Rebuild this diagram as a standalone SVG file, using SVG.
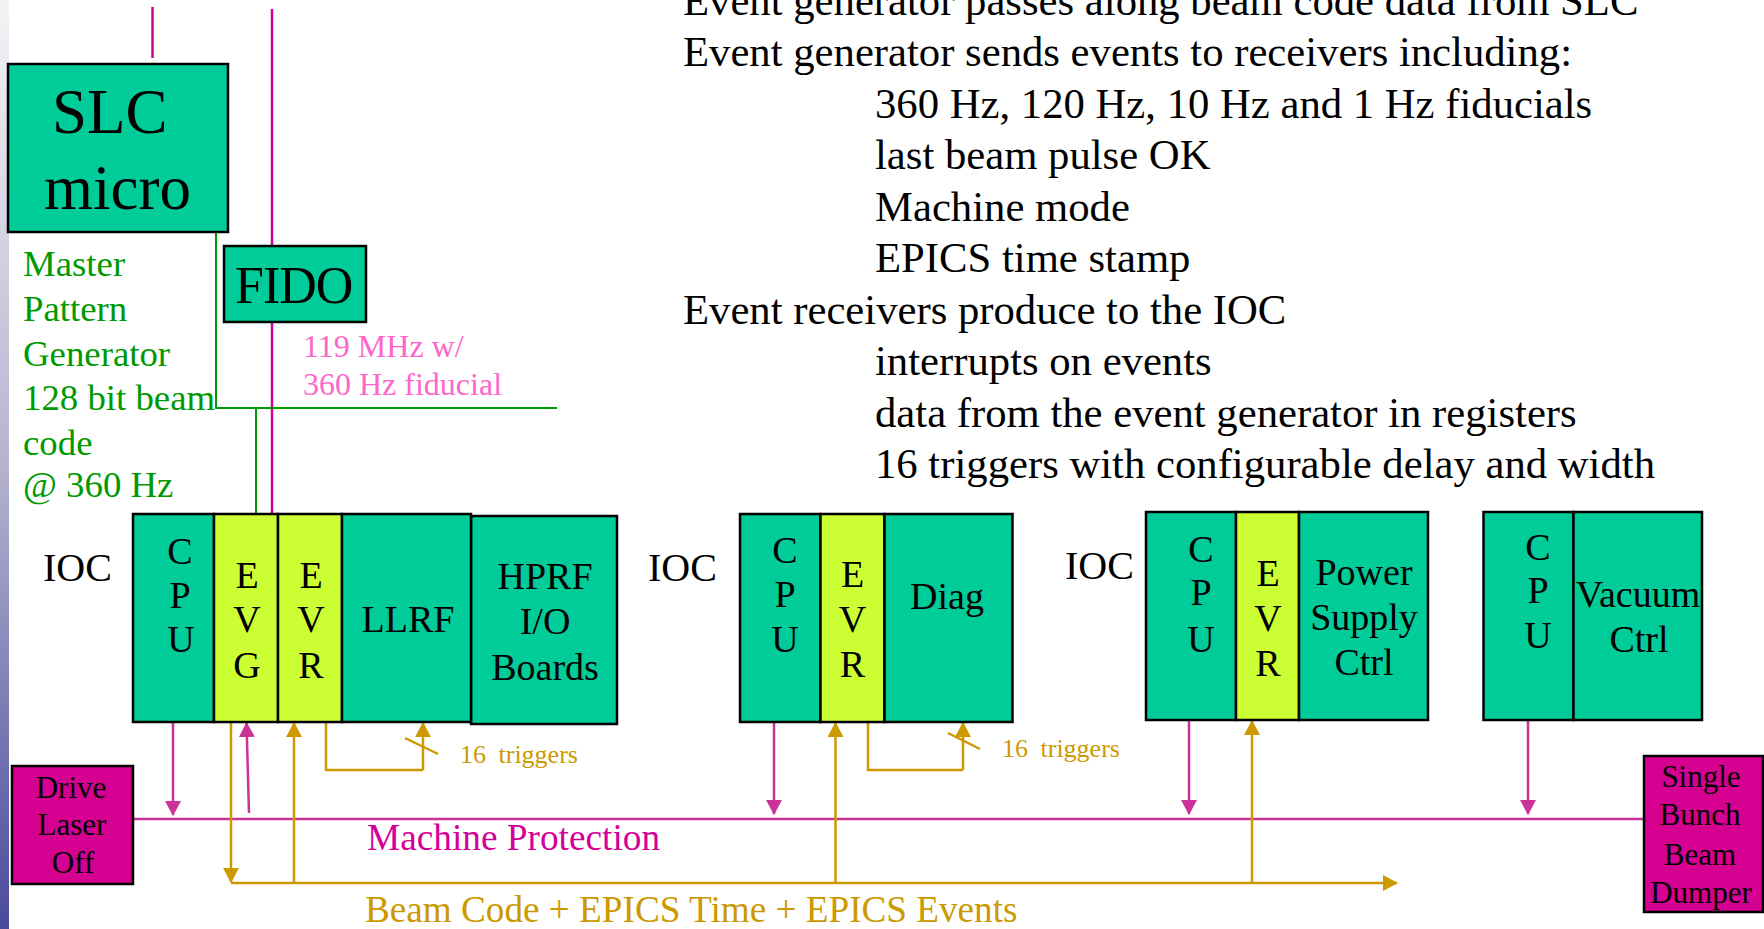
<svg xmlns="http://www.w3.org/2000/svg" width="1764" height="929" viewBox="0 0 1764 929">
  <defs>
    <linearGradient id="edge" x1="0" y1="0" x2="0" y2="1">
      <stop offset="0" stop-color="#f3f3f7"/>
      <stop offset="0.5" stop-color="#b4b4cf"/>
      <stop offset="1" stop-color="#4a4a9c"/>
    </linearGradient>
    <marker id="arrPink" markerUnits="userSpaceOnUse" markerWidth="16" markerHeight="16" refX="14" refY="8" orient="auto">
      <path d="M0,0 L15,8 L0,16 Z" fill="#cc3399"/>
    </marker>
    <marker id="arrGold" markerUnits="userSpaceOnUse" markerWidth="16" markerHeight="16" refX="14" refY="8" orient="auto">
      <path d="M0,0 L15,8 L0,16 Z" fill="#cc9900"/>
    </marker>
    <style>
      text { font-family: "Liberation Serif", "Times New Roman", serif; }
      .box { stroke: #000; stroke-width: 2.5; }
      .teal { fill: #00cc99; }
      .lime { fill: #ccff33; }
      .mag { fill: #d5008f; }
      .lbl { font-size: 38px; fill: #000; text-anchor: middle; }
      .ioc { font-size: 40px; fill: #000; }
      .info { font-size: 42.7px; fill: #000; }
      .dump { font-size: 31px; fill: #000; text-anchor: middle; }
      .green { font-size: 36.8px; fill: #009900; }
      .pinklbl { font-size: 32px; fill: #ff66cc; }
      .trig { font-size: 26px; fill: #cc9900; word-spacing: 6px; }
      .wire-g { stroke: #009900; stroke-width: 2; fill: none; }
      .wire-m { stroke: #cc0099; stroke-width: 2.5; fill: none; }
      .wire-p { stroke: #cc3399; stroke-width: 2.5; fill: none; }
      .wire-y { stroke: #cc9900; stroke-width: 2.5; fill: none; }
    </style>
  </defs>

  <rect x="0" y="0" width="1764" height="929" fill="#ffffff"/>
  <rect x="0" y="0" width="9" height="929" fill="url(#edge)"/>

  <!-- description text -->
  <g id="notes" class="info">
    <text x="683" y="15">Event generator passes along beam code data from SLC</text>
    <text x="683" y="66">Event generator sends events to receivers including:</text>
    <text x="875" y="118">360 Hz, 120 Hz, 10 Hz and 1 Hz fiducials</text>
    <text x="875" y="169">last beam pulse OK</text>
    <text x="875" y="221">Machine mode</text>
    <text x="875" y="272">EPICS time stamp</text>
    <text x="683" y="324">Event receivers produce to the IOC</text>
    <text x="875" y="375">interrupts on events</text>
    <text x="875" y="427">data from the event generator in registers</text>
    <text x="875" y="478">16 triggers with configurable delay and width</text>
  </g>

  <!-- connectors -->
  <g id="connectors">
    <!-- timing inputs from above -->
    <line class="wire-m" x1="152.5" y1="7" x2="152.5" y2="58"/>
    <line class="wire-m" x1="272" y1="9" x2="272" y2="522"/>
    <!-- beam code path from SLC micro to EVG -->
    <polyline class="wire-g" points="216,232 216,408 557,408"/>
    <line class="wire-g" x1="256" y1="408" x2="256" y2="520"/>

    <!-- machine protection bus -->
    <line class="wire-p" x1="133" y1="819" x2="1644" y2="819"/>
    <line class="wire-p" x1="173" y1="723" x2="173" y2="815" marker-end="url(#arrPink)"/>
    <line class="wire-p" x1="249" y1="813" x2="246.5" y2="723" marker-end="url(#arrPink)"/>
    <line class="wire-p" x1="774" y1="723" x2="774" y2="814" marker-end="url(#arrPink)"/>
    <line class="wire-p" x1="1189" y1="721" x2="1189" y2="814" marker-end="url(#arrPink)"/>
    <line class="wire-p" x1="1528" y1="721" x2="1528" y2="814" marker-end="url(#arrPink)"/>

    <!-- event distribution bus -->
    <line class="wire-y" x1="231" y1="723" x2="231" y2="882" marker-end="url(#arrGold)"/>
    <line class="wire-y" x1="231" y1="883" x2="1397" y2="883" marker-end="url(#arrGold)"/>
    <line class="wire-y" x1="294" y1="883" x2="294" y2="723" marker-end="url(#arrGold)"/>
    <line class="wire-y" x1="835.5" y1="883" x2="835.5" y2="723" marker-end="url(#arrGold)"/>
    <line class="wire-y" x1="1252" y1="883" x2="1252" y2="721" marker-end="url(#arrGold)"/>

    <!-- trigger outputs -->
    <polyline class="wire-y" points="326,723 326,770 423,770"/>
    <line class="wire-y" x1="423" y1="770" x2="423" y2="723" marker-end="url(#arrGold)"/>
    <line class="wire-y" x1="405" y1="738" x2="438" y2="754"/>
    <polyline class="wire-y" points="868,723 868,770 963,770"/>
    <line class="wire-y" x1="963" y1="770" x2="963" y2="723" marker-end="url(#arrGold)"/>
    <line class="wire-y" x1="948" y1="733" x2="980" y2="749"/>
  </g>

  <!-- labels on connectors -->
  <g id="connector-labels">
    <text class="green" x="23" y="276">Master</text>
    <text class="green" x="23" y="321">Pattern</text>
    <text class="green" x="23" y="366">Generator</text>
    <text class="green" x="23" y="410">128 bit beam</text>
    <text class="green" x="23" y="455">code</text>
    <text class="green" x="23" y="497">@ 360 Hz</text>
    <text class="pinklbl" x="303" y="357">119 MHz w/</text>
    <text class="pinklbl" x="303" y="395">360 Hz fiducial</text>
    <text class="trig" x="460" y="763">16 triggers</text>
    <text class="trig" x="1002" y="757">16 triggers</text>
    <text x="367" y="850" font-size="37.3" fill="#d4009a">Machine Protection</text>
    <text x="365" y="922" font-size="37.2" fill="#cc9900">Beam Code + EPICS Time + EPICS Events</text>
  </g>

  <!-- SLC micro -->
  <g id="slc-micro">
    <rect class="box teal" x="8" y="64" width="220" height="168"/>
    <text x="52" y="133" font-size="63" fill="#000">SLC</text>
    <text x="44" y="209" font-size="63" fill="#000">micro</text>
  </g>

  <!-- FIDO -->
  <g id="fido">
    <rect class="box teal" x="224" y="246" width="142" height="76"/>
    <text x="235" y="303" font-size="52" fill="#000" letter-spacing="-1">FIDO</text>
  </g>

  <!-- IOC with event generator, LLRF and HPRF -->
  <g id="ioc-llrf">
    <text class="ioc" x="43" y="581">IOC</text>
    <rect class="box teal" x="471" y="516" width="146" height="208"/>
    <rect class="box teal" x="133" y="514" width="81" height="208"/>
    <rect class="box lime" x="214" y="514" width="64" height="208"/>
    <rect class="box lime" x="278" y="514" width="64" height="208"/>
    <rect class="box teal" x="342" y="514" width="129" height="208"/>
    <g class="lbl">
      <text x="180" y="564">C</text>
      <text x="180" y="608">P</text>
      <text x="181" y="652">U</text>
      <text x="247" y="588">E</text>
      <text x="247" y="632">V</text>
      <text x="247" y="678">G</text>
      <text x="311" y="588">E</text>
      <text x="311" y="632">V</text>
      <text x="311" y="678">R</text>
      <text x="408" y="632">LLRF</text>
      <text x="545" y="589">HPRF</text>
      <text x="545" y="634">I/O</text>
      <text x="545" y="680">Boards</text>
    </g>
  </g>

  <!-- IOC with diagnostics -->
  <g id="ioc-diag">
    <text class="ioc" x="648" y="581">IOC</text>
    <rect class="box teal" x="740" y="514" width="80.5" height="208"/>
    <rect class="box lime" x="820.5" y="514" width="64" height="208"/>
    <rect class="box teal" x="884.5" y="514" width="128" height="208"/>
    <g class="lbl">
      <text x="785" y="563">C</text>
      <text x="785" y="607">P</text>
      <text x="785" y="652">U</text>
      <text x="852.5" y="587">E</text>
      <text x="852.5" y="632">V</text>
      <text x="852.5" y="677">R</text>
      <text x="947" y="609">Diag</text>
    </g>
  </g>

  <!-- IOC with power supply control -->
  <g id="ioc-power">
    <text class="ioc" x="1065" y="579">IOC</text>
    <rect class="box teal" x="1146" y="512" width="90" height="208"/>
    <rect class="box lime" x="1236" y="512" width="63" height="208"/>
    <rect class="box teal" x="1299" y="512" width="129" height="208"/>
    <g class="lbl">
      <text x="1201" y="562">C</text>
      <text x="1201" y="605">P</text>
      <text x="1201" y="652">U</text>
      <text x="1268" y="586">E</text>
      <text x="1268" y="631">V</text>
      <text x="1268" y="676">R</text>
      <text x="1364" y="585">Power</text>
      <text x="1364" y="630">Supply</text>
      <text x="1364" y="675">Ctrl</text>
    </g>
  </g>

  <!-- vacuum control crate -->
  <g id="ioc-vacuum">
    <rect class="box teal" x="1483.5" y="512" width="90" height="208"/>
    <rect class="box teal" x="1573.5" y="512" width="128.5" height="208"/>
    <g class="lbl">
      <text x="1538" y="560">C</text>
      <text x="1538" y="603">P</text>
      <text x="1538" y="648">U</text>
      <text x="1638" y="607">Vacuum</text>
      <text x="1639" y="652">Ctrl</text>
    </g>
  </g>

  <!-- machine protection endpoints -->
  <g id="drive-laser-off">
    <rect class="box mag" x="12" y="766" width="121" height="118"/>
    <g class="dump">
      <text x="71" y="798">Drive</text>
      <text x="72" y="835">Laser</text>
      <text x="73" y="873">Off</text>
    </g>
  </g>

  <g id="single-bunch-beam-dumper">
    <rect class="box mag" x="1644" y="756" width="119" height="156"/>
    <g class="dump">
      <text x="1701" y="787">Single</text>
      <text x="1700" y="825">Bunch</text>
      <text x="1700" y="865">Beam</text>
      <text x="1701" y="903">Dumper</text>
    </g>
  </g>
</svg>
